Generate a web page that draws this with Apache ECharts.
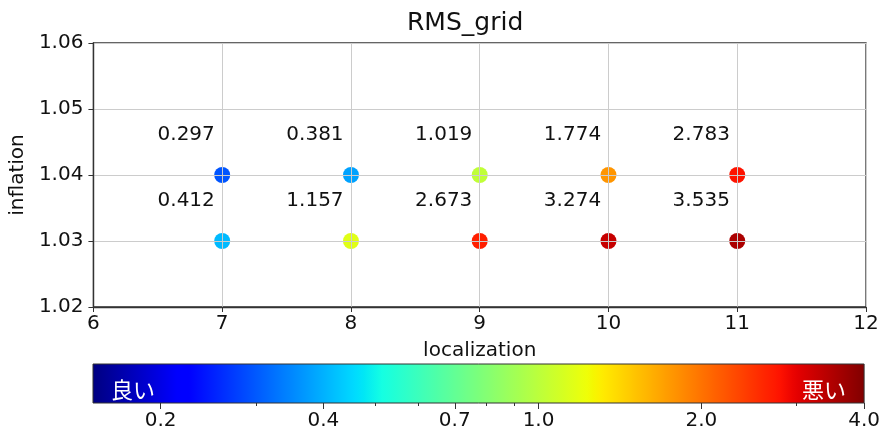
<!DOCTYPE html>
<html>
<head>
<meta charset="utf-8">
<script src="https://cdn.jsdelivr.net/npm/echarts@6/dist/echarts.min.js"></script>
<style>
html,body{margin:0;padding:0;background:#fff;}
#chart{width:883px;height:433px;}
</style>
</head>
<body>
<div id="chart"></div>
<script>
// ---- data ----
const localization = [7, 8, 9, 10, 11];
const inflation = [1.04, 1.03];
const rms_infl_104 = [0.297, 0.381, 1.019, 1.774, 2.783];
const rms_infl_103 = [0.412, 1.157, 2.673, 3.274, 3.535];
const xTicks = [6, 7, 8, 9, 10, 11, 12];
const yTicks = [1.02, 1.03, 1.04, 1.05, 1.06];
const cbMin = 0.15, cbMax = 4.0;
const cbMajorTicks = [0.2, 0.4, 0.7, 1.0, 2.0, 4.0];
const cbMinorTicks = [0.3, 0.5, 0.6, 0.8, 0.9, 3.0];
const goodLabel = '良い';
const badLabel = '悪い';

// ---- jet colormap (matplotlib segment data) ----
const jetSeg = {
  r: [[0, 0], [0.35, 0], [0.66, 1], [0.89, 1], [1, 0.5]],
  g: [[0, 0], [0.125, 0], [0.375, 1], [0.64, 1], [0.91, 0], [1, 0]],
  b: [[0, 0.5], [0.11, 1], [0.34, 1], [0.65, 0], [1, 0]]
};
function segVal(seg, t) {
  for (let i = 1; i < seg.length; i++) {
    if (t <= seg[i][0]) {
      const a = seg[i - 1], b = seg[i];
      return a[1] + (b[1] - a[1]) * (t - a[0]) / (b[0] - a[0]);
    }
  }
  return seg[seg.length - 1][1];
}
function jet(t) {
  const r = Math.round(255 * segVal(jetSeg.r, t));
  const g = Math.round(255 * segVal(jetSeg.g, t));
  const b = Math.round(255 * segVal(jetSeg.b, t));
  return 'rgb(' + r + ',' + g + ',' + b + ')';
}
const N = 128;
const jetColors = [];
const jetStops = [];
for (let i = 0; i <= N; i++) {
  jetColors.push(jet(i / N));
  jetStops.push({ offset: i / N, color: jet(i / N) });
}

const lg = Math.log10;
const points = [];
localization.forEach((x, i) => {
  points.push([x, inflation[0], lg(rms_infl_104[i]), rms_infl_104[i]]);
  points.push([x, inflation[1], lg(rms_infl_103[i]), rms_infl_103[i]]);
});

const FONT = 'DejaVu Sans';
const chart = echarts.init(document.getElementById('chart'), null, { renderer: 'canvas' });
chart.setOption({
  animation: false,
  backgroundColor: '#fff',
  textStyle: { fontFamily: FONT },
  title: {
    text: 'RMS_grid',
    left: 402, top: 6,
    textStyle: { fontFamily: FONT, fontSize: 25, fontWeight: 'normal', color: '#111' }
  },
  grid: [
    { left: 93, right: 17, top: 43, height: 264, show: true, borderColor: '#333', borderWidth: 1.3, backgroundColor: 'transparent' },
    { left: 93, right: 15, top: 364, height: 39 }
  ],
  xAxis: [
    {
      gridIndex: 0, type: 'value', min: 6, max: 12, interval: 1,
      name: 'localization', nameLocation: 'middle', nameGap: 34,
      nameTextStyle: { fontFamily: FONT, fontSize: 20, color: '#111' },
      axisLine: { show: true, onZero: false, lineStyle: { color: '#333', width: 1.3 } },
      axisTick: { show: true, length: 5, lineStyle: { color: '#333' } },
      axisLabel: { fontFamily: FONT, fontSize: 20, color: '#111', margin: 7 },
      splitLine: { show: true, lineStyle: { color: '#cccccc', width: 1 } },
      zlevel: 1
    },
    {
      gridIndex: 1, type: 'value', min: lg(cbMin), max: lg(cbMax), position: 'bottom',
      axisLine: { show: false },
      axisTick: { show: true, length: 6, customValues: cbMajorTicks.map(lg), lineStyle: { color: '#333' } },
      axisLabel: {
        show: true, customValues: cbMajorTicks.map(lg), fontFamily: FONT, fontSize: 20, color: '#111', margin: 8,
        formatter: v => Math.pow(10, v).toFixed(1)
      },
      splitLine: { show: false }
    },
    {
      gridIndex: 1, type: 'value', min: lg(cbMin), max: lg(cbMax), position: 'bottom',
      axisLine: { show: false },
      axisTick: { show: true, length: 3, customValues: cbMinorTicks.map(lg), lineStyle: { color: '#333' } },
      axisLabel: { show: false },
      splitLine: { show: false }
    }
  ],
  yAxis: [
    {
      gridIndex: 0, type: 'value', min: 1.02, max: 1.06, interval: 0.01,
      name: 'inflation', nameLocation: 'middle', nameGap: 61,
      nameTextStyle: { fontFamily: FONT, fontSize: 20, color: '#111' },
      axisLine: { show: true, onZero: false, lineStyle: { color: '#333', width: 1.3 } },
      axisTick: { show: true, length: 5, lineStyle: { color: '#333' } },
      axisLabel: { fontFamily: FONT, fontSize: 20, color: '#111', margin: 10, formatter: v => v.toFixed(2) },
      splitLine: { show: true, lineStyle: { color: '#cccccc', width: 1 } },
      zlevel: 1
    },
    { gridIndex: 1, type: 'value', min: 0, max: 1, show: false }
  ],
  visualMap: {
    show: false, type: 'continuous', seriesIndex: 0, dimension: 2,
    min: lg(cbMin), max: lg(cbMax), inRange: { color: jetColors }
  },
  series: [
    {
      type: 'scatter', xAxisIndex: 0, yAxisIndex: 0, zlevel: 0,
      symbolSize: 16,
      itemStyle: { opacity: 1 },
      data: points,
      label: {
        show: true, position: 'inside', offset: [-36, -40],
        fontFamily: FONT, fontSize: 20, color: '#111',
        formatter: p => p.value[3].toFixed(3)
      }
    },
    {
      type: 'custom', xAxisIndex: 1, yAxisIndex: 1, clip: false, silent: true,
      data: [[lg(cbMin), lg(cbMax)]],
      renderItem: function (params, api) {
        const p0 = api.coord([api.value(0), 1]);
        const p1 = api.coord([api.value(1), 0]);
        const w = p1[0] - p0[0], h = p1[1] - p0[1];
        return {
          type: 'group',
          children: [
            {
              type: 'rect',
              shape: { x: p0[0], y: p0[1], width: w, height: h },
              style: {
                fill: new echarts.graphic.LinearGradient(0, 0, 1, 0, jetStops),
                stroke: '#333', lineWidth: 1
              }
            },
            {
              type: 'text',
              style: {
                text: goodLabel, x: p0[0] + 18, y: p0[1] + h * 0.66,
                fill: '#fff', fontSize: 22, fontFamily: 'Noto Sans CJK JP',
                align: 'left', verticalAlign: 'middle'
              }
            },
            {
              type: 'text',
              style: {
                text: badLabel, x: p1[0] - 18, y: p0[1] + h * 0.66,
                fill: '#fff', fontSize: 22, fontFamily: 'Noto Sans CJK JP',
                align: 'right', verticalAlign: 'middle'
              }
            }
          ]
        };
      }
    }
  ]
});
</script>
</body>
</html>
